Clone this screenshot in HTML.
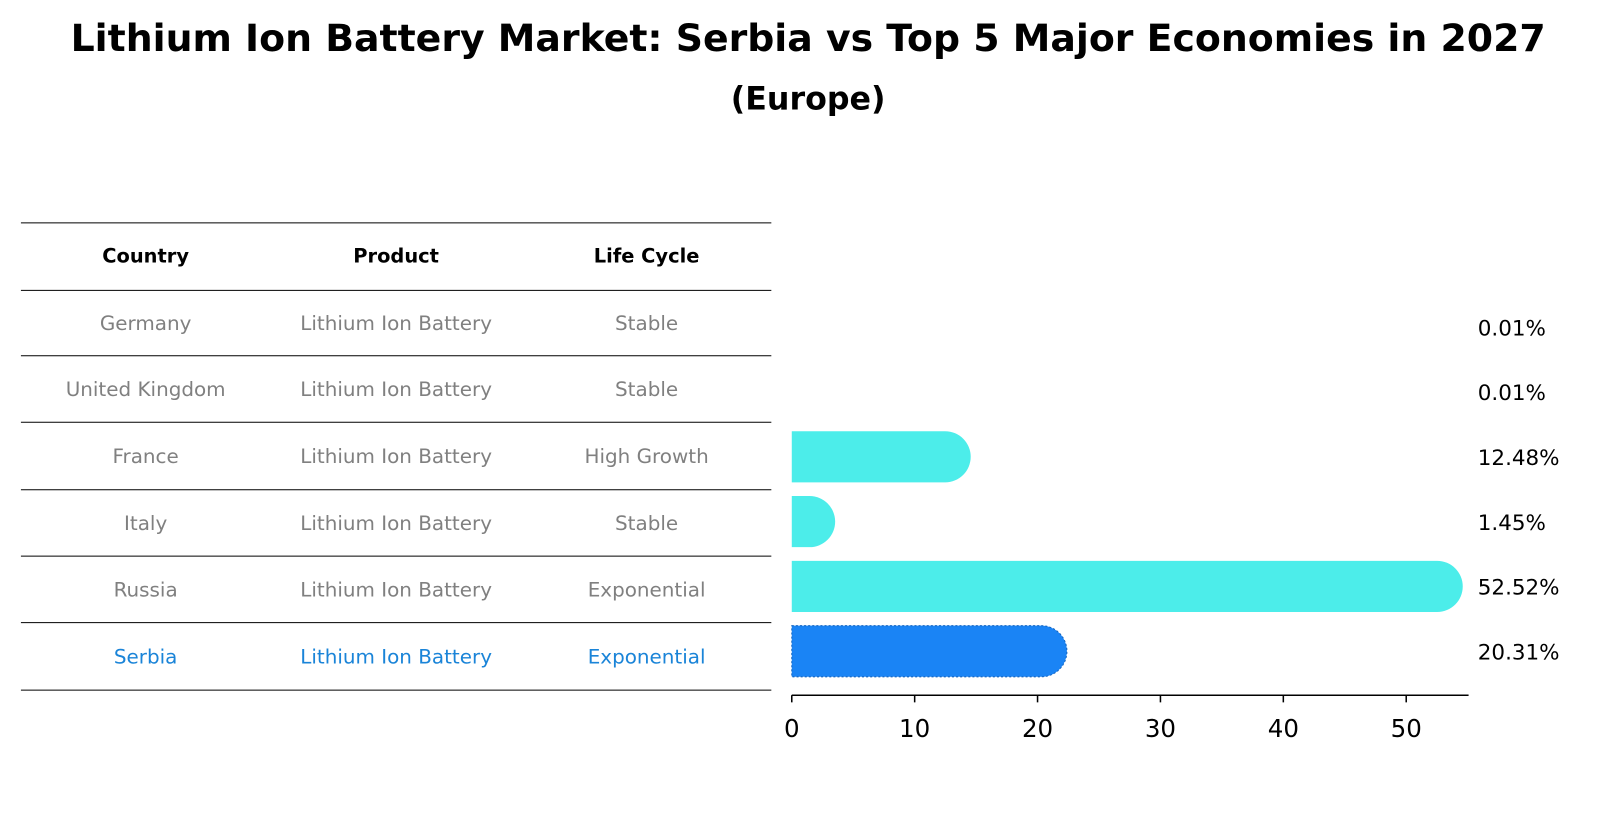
<!DOCTYPE html>
<html><head><meta charset="utf-8"><style>
body{margin:0;background:#fff;width:1604px;height:823px;overflow:hidden;font-family:"DejaVu Sans","Liberation Sans",sans-serif}
</style></head><body>
<svg width="1604" height="823" viewBox="0 0 1568 805" xmlns="http://www.w3.org/2000/svg">
<text x="790" y="50" text-anchor="middle" font-size="37" font-weight="bold">Lithium Ion Battery Market: Serbia vs Top 5 Major Economies in 2027</text>
<text x="790" y="107" text-anchor="middle" font-size="31" font-weight="bold">(Europe)</text>
<g id="table"></g>
<g id="bars"></g>
</svg>
<script>
const countries=["Germany","United Kingdom","France","Italy","Russia","Serbia"];
const products=["Lithium Ion Battery","Lithium Ion Battery","Lithium Ion Battery","Lithium Ion Battery","Lithium Ion Battery","Lithium Ion Battery"];
const lifeCycles=["Stable","Stable","High Growth","Stable","Exponential","Exponential"];
const shares=[0.01,0.01,12.48,1.45,52.52,20.31];
const shareLabels=["0.01%","0.01%","12.48%","1.45%","52.52%","20.31%"];
const xTicks=[0,10,20,30,40,50];
const NS="http://www.w3.org/2000/svg";
function mk(tag,attrs,parent,txt){const e=document.createElementNS(NS,tag);for(const k in attrs)e.setAttribute(k,attrs[k]);if(txt!==undefined)e.textContent=txt;parent.appendChild(e);return e;}
const tbl=document.getElementById('table');
const lineY=[218,284,348,413,479,544,609,675];
lineY.forEach(y=>{const l=mk('line',{x1:20,x2:754,y1:y,y2:y,stroke:'#000','stroke-width':1},tbl);

});
const colX=[142,387,632];
["Country","Product","Life Cycle"].forEach((h,i)=>{const t=mk('text',{x:colX[i],y:257,'text-anchor':'middle','font-size':19,'font-weight':'bold'},tbl,h);

});
const rowY=i=>(lineY[i+1]+lineY[i+2])/2+7;
countries.forEach((c,i)=>{const col=i===countries.length-1?'#1a84d8':'#808080';
[c,products[i],lifeCycles[i]].forEach((v,j)=>{const t=mk('text',{x:colX[j],y:rowY(i),'text-anchor':'middle','font-size':19.5,fill:col},tbl,v);

});});
const bars=document.getElementById('bars');
const x0=774,pxPer=12.02;
const xs=v=>x0+v*pxPer;
const barCY=i=>320+i*63.4;
const bh=50;
shares.forEach((v,i)=>{const cy=barCY(i);const col=i===5?'#1a84f5':'#4cedea';
if(v>0.5){const p=mk('path',{d:`M${x0},${cy-bh/2} H${xs(v)} A25,25 0 0 1 ${xs(v)},${cy+bh/2} H${x0} Z`,fill:col},bars);
if(i===5){p.setAttribute('stroke','#1565c0');p.setAttribute('stroke-dasharray','2,2');p.setAttribute('stroke-width','1');}

}
const t=mk('text',{x:1445,y:cy+8,'font-size':21},bars,shareLabels[i]);

});
const ax=mk('line',{x1:774,x2:1436,y1:680,y2:680,stroke:'#000','stroke-width':1.5},bars);


xTicks.forEach(v=>{const l=mk('line',{x1:xs(v),x2:xs(v),y1:680,y2:687,stroke:'#000','stroke-width':1.5},bars);


const t=mk('text',{x:xs(v),y:721,'text-anchor':'middle','font-size':24},bars,String(v));

});
</script>
</body></html>
